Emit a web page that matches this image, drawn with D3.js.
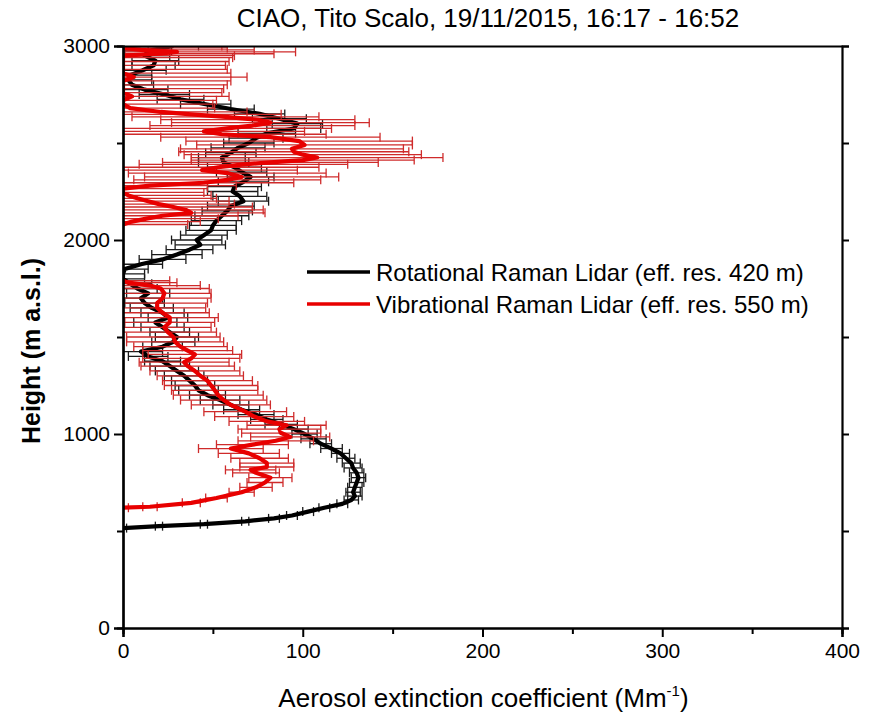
<!DOCTYPE html>
<html>
<head>
<meta charset="utf-8">
<script src="https://cdn.jsdelivr.net/npm/d3@7"></script>
<style>
  html, body { margin: 0; padding: 0; background: #fff; }
  text { font-family: "Liberation Sans", Arial, sans-serif; fill: #000; }
</style>
</head>
<body>
<svg id="chart" width="870" height="716"></svg>
<script>
// ---------------- DATA ----------------
const title = "CIAO, Tito Scalo, 19/11/2015, 16:17 - 16:52";
const xLabel = "Aerosol extinction coefficient (Mm";
const yLabel = "Height (m a.s.l.)";
const xTicks = [0, 100, 200, 300, 400];
const yTicks = [0, 1000, 2000, 3000];
const seriesNames = ["Rotational Raman Lidar (eff. res. 420 m)", "Vibrational Raman Lidar (eff. res. 550 m)"];

// Rotational Raman Lidar: height (m), extinction (Mm-1), error (Mm-1)
const rotHeight = [
  515, 525, 535, 550, 565, 580, 600, 620, 640,
  660, 680, 700, 725, 750, 775, 800, 825, 850, 875, 900,
  925, 950, 975, 1000,
  1025, 1050, 1075, 1100, 1125, 1150, 1175, 1200, 1225, 1250,
  1275, 1300, 1325, 1350, 1375, 1400, 1425, 1450, 1475, 1500,
  1525, 1550, 1575, 1600, 1625, 1650, 1675, 1700, 1725, 1750,
  1775, 1800,
  1825, 1850, 1875, 1900, 1925, 1950, 1975, 2000, 2025, 2050,
  2075, 2100, 2125, 2150, 2175, 2200, 2225, 2250, 2275, 2300,
  2325, 2350, 2375, 2400, 2425, 2450, 2475, 2500, 2525, 2550,
  2575, 2600, 2625, 2650, 2675, 2700, 2725, 2750, 2775, 2800,
  2825, 2850, 2875, 2900, 2925, 2950, 2975, 3000
];
const rotValue = [
  0, 20, 45, 68, 84, 94, 103, 112, 122,
  127, 129, 128, 129, 130, 131, 130, 128, 127, 124, 121,
  116, 110, 106, 101,
  95, 88, 80, 74, 66, 60, 54, 47, 42, 40,
  37, 34, 30, 26, 22, 14, 10, 22, 28, 30,
  26, 22, 18, 25, 22, 16, 12, 10, 14, 8,
  4, 0,
  0, 1, 10, 22, 30, 37, 43, 41, 45, 49,
  50, 52, 55, 58, 60, 67, 65, 61, 62, 67,
  71, 66, 62, 56, 55, 60, 64, 70, 74, 80,
  95, 97, 87, 76, 60, 46, 32, 23, 12, 5,
  3, 4, 11, 17, 18, 12, 14, 28
];
const rotError = [
  2, 2, 2, 2, 3, 3, 3, 3, 3,
  4, 4, 4, 4, 4, 4, 4, 5, 5, 5, 5,
  6, 6, 7, 7,
  8, 9, 9, 10, 10, 10, 11, 10, 11, 11,
  10, 11, 12, 11, 10, 11, 12, 11, 12, 12,
  11, 12, 12, 11, 12, 12, 11, 12, 12, 11,
  12, 12,
  12, 13, 12, 13, 14, 13, 14, 14, 13, 14,
  13, 14, 15, 14, 13, 14, 15, 14, 15, 14,
  13, 14, 15, 14, 13, 14, 15, 14, 15, 16,
  15, 14, 15, 14, 13, 14, 13, 14, 13, 12,
  13, 12, 13, 12, 13, 14, 13, 14
];

// Vibrational Raman Lidar (null = no data)
const vibHeight = [
  620, 625, 645, 670, 700, 725, 750, 775, 800, 815,
  830, 850, 875, 900, 925, 945, 965, 985, 1005, 1025,
  1045, 1065, 1090, 1115, 1150, 1175, 1200, 1225, 1250, 1275,
  1300, 1325, 1350, 1370, 1390, 1410, 1430, 1450, 1475, 1500,
  1525, 1550, 1575, 1600, 1625, 1650, 1675, 1700, 1725, 1750,
  1765, 1780, 1790, 1800,
  2080, 2095, 2110, 2125, 2140, 2155, 2170, 2185, 2200, 2215,
  2230, 2245, 2265, 2280, 2295, 2310, 2325, 2345, 2360, 2375,
  2390, 2400, 2412, 2425, 2440, 2455, 2470, 2490, 2510, 2530,
  2545, 2560, 2575, 2590, 2605, 2620, 2635, 2648, 2660, 2680,
  2700, 2720, 2740, 2760, 2780, 2800, 2820, 2840, 2860, 2880,
  2900, 2920, 2940, 2950, 2960, 2970, 2980, 2990, 3000
];
const vibValue = [
  0, 15, 38, 52, 66, 74, 79, 82, 74, 71,
  80, 80, 76, 70, 60, 72, 85, 93, 88, 87,
  91, 80, 73, 68, 60, 56, 53, 51, 49, 47,
  43, 40, 36, 34, 38, 40, 36, 32, 29, 28,
  25, 23, 26, 26, 22, 19, 19, 22, 23, 21,
  15, 3, 0, null,
  0, 5, 13, 22, 38, 35, 28, 20, 14, 8,
  3, 0, 0, 15, 45, 58, 66, 58, 44, 53,
  67, 82, 100, 108, 100, 95, 94, 101, 98, 82,
  55, 45, 58, 72, 82, 75, 57, 38, 21, 4,
  0, 0, 5, 0, 0, 0, 0, 6, 0, 0,
  0, 0, 0, 0, 20, 30, 10, 0, 0
];
const vibError = [
  3, 4, 5, 6, 7, 9, 10, 12, 13, 14,
  15, 15, 16, 17, 18, 20, 21, 22, 22, 23,
  22, 21, 22, 23, 22, 24, 25, 24, 26, 25,
  24, 25, 26, 25, 27, 26, 25, 26, 27, 26,
  27, 26, 25, 27, 26, 27, 28, 27, 26, 27,
  28, 27, 26, 0,
  36, 38, 40, 42, 41, 43, 44, 42, 45, 44,
  46, 45, 47, 48, 50, 52, 54, 55, 53, 56,
  58, 60, 62, 70, 66, 64, 62, 60, 63, 61,
  58, 56, 58, 57, 55, 54, 52, 50, 48, 47,
  50, 52, 54, 55, 56, 58, 60, 63, 60, 58,
  57, 59, 61, 62, 64, 66, 63, 58, 55
];

// ---------------- LAYOUT ----------------
const W = 870, H = 716;
const M = { left: 123, right: 28, top: 46, bottom: 88 };
const plotW = W - M.left - M.right;
const plotH = H - M.top - M.bottom;

const svg = d3.select("#chart");
const x = d3.scaleLinear().domain([0, 400]).range([M.left, M.left + plotW]);
const y = d3.scaleLinear().domain([0, 3000]).range([M.top + plotH, M.top]);

svg.append("defs").append("clipPath").attr("id", "clip")
  .append("rect").attr("x", M.left).attr("y", M.top).attr("width", plotW).attr("height", plotH);

const rot = rotHeight.map((h, i) => ({ h, v: rotValue[i], e: rotError[i] }));
const vib = vibHeight.map((h, i) => ({ h, v: vibValue[i], e: vibError[i] }));

const plot = svg.append("g").attr("clip-path", "url(#clip)");

function drawErrors(data, color) {
  const g = plot.append("g").attr("stroke", color).attr("stroke-width", 1.3).attr("fill", "none");
  const pts = data.filter(d => d.v != null);
  g.selectAll("line.bar").data(pts).join("line").attr("class", "bar")
    .attr("x1", d => x(d.v - d.e)).attr("x2", d => x(d.v + d.e))
    .attr("y1", d => y(d.h)).attr("y2", d => y(d.h));
  g.selectAll("line.capl").data(pts).join("line").attr("class", "capl")
    .attr("x1", d => x(d.v - d.e)).attr("x2", d => x(d.v - d.e))
    .attr("y1", d => y(d.h) - 4.5).attr("y2", d => y(d.h) + 4.5);
  g.selectAll("line.capr").data(pts).join("line").attr("class", "capr")
    .attr("x1", d => x(d.v + d.e)).attr("x2", d => x(d.v + d.e))
    .attr("y1", d => y(d.h) - 4.5).attr("y2", d => y(d.h) + 4.5);
}
const line = d3.line().defined(d => d.v != null).x(d => x(d.v)).y(d => y(d.h));

drawErrors(rot, "#1a1a1a");
plot.append("path").datum(rot).attr("d", line).attr("fill", "none")
  .attr("stroke", "#000").attr("stroke-width", 4.2).attr("stroke-linejoin", "round");
drawErrors(vib, "#cf2b2b");
plot.append("path").datum(vib).attr("d", line).attr("fill", "none")
  .attr("stroke", "#e80000").attr("stroke-width", 4.2).attr("stroke-linejoin", "round");

// ---------------- AXES ----------------
const axisG = svg.append("g");
const xMinor = d3.range(50, 400, 100);
const yMinor = d3.range(500, 3000, 1000);

const xAxis = axisG.append("g").attr("transform", `translate(0,${M.top + plotH})`)
  .call(d3.axisBottom(x).tickValues(xTicks).tickSize(9).tickPadding(5).tickFormat(d3.format("d")));
axisG.append("g").attr("transform", `translate(0,${M.top + plotH})`)
  .call(d3.axisBottom(x).tickValues(xMinor).tickSize(6).tickFormat(""));
const yAxis = axisG.append("g").attr("transform", `translate(${M.left},0)`)
  .call(d3.axisLeft(y).tickValues(yTicks).tickSize(9).tickPadding(4).tickFormat(d3.format("d")));
axisG.append("g").attr("transform", `translate(${M.left},0)`)
  .call(d3.axisLeft(y).tickValues(yMinor).tickSize(6).tickFormat(""));
axisG.append("g").attr("transform", `translate(${M.left + plotW},0)`)
  .call(d3.axisRight(y).tickValues(yTicks.concat(yMinor)).tickSize(7).tickFormat(""));
axisG.append("g").attr("transform", `translate(0,${M.top})`)
  .call(d3.axisTop(x).tickValues([]).tickSize(0));

axisG.selectAll(".domain").attr("stroke", "#000").attr("stroke-width", 2.2);
axisG.selectAll(".tick line").attr("stroke", "#000").attr("stroke-width", 2);
axisG.selectAll(".tick text").attr("font-size", 21).attr("fill", "#000")
  .style("font-family", "'Liberation Sans', Arial, sans-serif");
xAxis.selectAll(".tick text").attr("dy", "0.75em");

// ---------------- TEXTS ----------------
svg.append("text").attr("x", 488).attr("y", 27).attr("text-anchor", "middle")
  .attr("font-size", 26).text(title);

const xl = svg.append("text").attr("x", x(200) + 1).attr("y", 707).attr("text-anchor", "middle")
  .attr("font-size", 26);
xl.append("tspan").text(xLabel);
xl.append("tspan").attr("font-size", 15).attr("dy", -11).text("-1");
xl.append("tspan").attr("dy", 11).text(")");

svg.append("text").attr("transform", `translate(40,351) rotate(-90)`)
  .attr("text-anchor", "middle").attr("font-size", 25).attr("font-weight", "bold").text(yLabel);

// ---------------- LEGEND ----------------
const legendColors = ["#000", "#e80000"];
const leg = svg.append("g");
seriesNames.forEach((name, i) => {
  const yy = 272 + i * 32;
  leg.append("line").attr("x1", 307).attr("x2", 370).attr("y1", yy).attr("y2", yy)
    .attr("stroke", legendColors[i]).attr("stroke-width", 3.6);
  leg.append("text").attr("x", 376).attr("y", yy + 9).attr("font-size", 24).text(name);
});
</script>
</body>
</html>
